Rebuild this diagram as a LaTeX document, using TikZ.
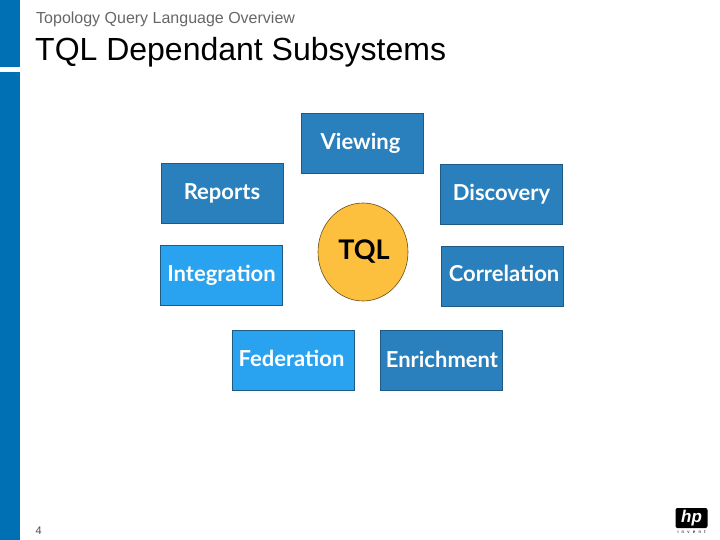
\documentclass[tikz,border=0pt]{standalone}
\usepackage{fontspec}
\setmainfont{Liberation Sans}
\newfontfamily\labelfont{Lato}
\usetikzlibrary{positioning,shapes.geometric}
\definecolor{barblue}{HTML}{0070B5}
\definecolor{darkbox}{HTML}{2A80BC}
\definecolor{lightbox}{HTML}{29A3F0}
\definecolor{tqlyellow}{HTML}{FCBF3E}
\newcommand{\lift}[2]{\raisebox{#1pt}{#2}}
\tikzset{
  subsys/.style={draw=black!30!darkbox,line width=0.6pt,fill=darkbox,rectangle,minimum width=122pt,minimum height=60pt,inner sep=0pt,text=white,font=\labelfont\bfseries\fontsize{22}{24}\selectfont},
  sublight/.style={subsys,fill=lightbox},
  bar/.style={fill=barblue,draw=none,rectangle,inner sep=0pt,minimum width=20pt,anchor=north west}
}
\begin{document}
\begin{tikzpicture}[x=1pt,y=-1pt]
  \useasboundingbox (0,0) rectangle (720,540);

  \node[bar,minimum height=67pt] (bartop) at (0,0) {};
  \node[bar,minimum height=468pt] (barlow) at (0,72) {};

  \node[anchor=west,text=black!60,font=\fontsize{16}{18}\selectfont,inner sep=0pt] (topic) at (36,19) {Topology Query Language Overview};
  \node[anchor=west,font=\fontsize{32}{36}\selectfont,inner sep=0pt] (title) at (35,52) {TQL Dependant Subsystems};
  \node[anchor=west,text=black!70,font=\fontsize{11}{13}\selectfont,inner sep=0pt] (pagenum) at (35.5,531) {4};

  \node[subsys] (view) at (362,143) {\hspace{-3pt}\lift{2}{Viewing}};
  \node[subsys] (rep) at (222,193.5) {\lift{2}{Reports}};
  \node[subsys] (disc) at (501.5,194) {\lift{1}{Discovery}};
  \node[sublight] (integ) at (221.5,275) {\lift{3}{Integration}};
  \node[subsys] (corr) at (502.5,276) {\hspace{3pt}\lift{5}{Correlation}};
  \node[sublight] (fed) at (293,360) {\hspace{-3pt}\lift{4}{Federation}};
  \node[subsys] (enr) at (441,360.5) {\hspace{2pt}\lift{2}{Enrichment}};

  \node[draw=black!60!tqlyellow,line width=0.6pt,fill=tqlyellow,ellipse,minimum width=90pt,minimum height=98pt,inner sep=0pt,font=\labelfont\bfseries\fontsize{27}{29}\selectfont] (tql) at (363,252) {\hspace{2pt}\lift{2}{TQL}};

  \node[fill=black,rounded corners=2pt,minimum width=32pt,minimum height=20pt,inner sep=0pt,text=white,font=\bfseries\itshape\fontsize{17}{17}\selectfont] (logo) at (691.5,518) {hp};
  \node[below=2pt of logo,inner sep=0pt,font=\fontsize{4.5}{5}\selectfont] (invent) {i\hspace{3.2pt}n\hspace{3.2pt}v\hspace{3.2pt}e\hspace{3.2pt}n\hspace{3.2pt}t};
\end{tikzpicture}
\end{document}
